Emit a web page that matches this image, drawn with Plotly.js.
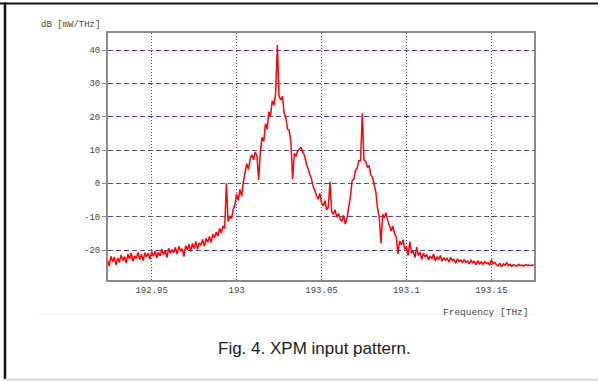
<!DOCTYPE html>
<html>
<head>
<meta charset="utf-8">
<script src="https://cdn.plot.ly/plotly-3.0.1.min.js"></script>
<style>
html,body{margin:0;padding:0;background:#fff;}
#chart{width:598px;height:381px;}
</style>
</head>
<body>
<div id="chart"></div>
<script>
// Frequency samples (THz)
var freq = [
192.924,192.925,192.926,192.927,192.928,192.929,192.930,192.931,192.932,192.933,
192.934,192.935,192.936,192.937,192.938,192.939,192.940,192.941,192.942,192.943,
192.944,192.945,192.946,192.947,192.948,192.949,192.950,192.951,192.952,192.953,
192.954,192.955,192.956,192.957,192.958,192.959,192.960,192.961,192.962,192.963,
192.964,192.965,192.966,192.967,192.968,192.969,192.970,192.971,192.972,192.973,
192.974,192.975,192.976,192.977,192.978,192.979,192.980,192.981,192.982,192.983,
192.984,192.985,192.986,192.987,192.988,192.989,192.990,192.991,192.992,192.993,
192.994,192.995,192.996,192.997,192.998,192.999,193.000,193.001,193.002,193.003,
193.004,193.005,193.006,193.007,193.008,193.009,193.010,193.011,193.012,193.013,
193.014,193.015,193.016,193.017,193.018,193.019,193.020,193.021,193.022,193.023,
193.024,193.025,193.026,193.027,193.028,193.029,193.030,193.031,193.032,193.033,
193.034,193.035,193.036,193.037,193.038,193.039,193.040,193.041,193.042,193.043,
193.044,193.045,193.046,193.047,193.048,193.049,193.050,193.051,193.052,193.053,
193.054,193.055,193.056,193.057,193.058,193.059,193.060,193.061,193.062,193.063,
193.064,193.065,193.066,193.067,193.068,193.069,193.070,193.071,193.072,193.073,
193.074,193.075,193.076,193.077,193.078,193.079,193.080,193.081,193.082,193.083,
193.084,193.085,193.086,193.087,193.088,193.089,193.090,193.091,193.092,193.093,
193.094,193.095,193.096,193.097,193.098,193.099,193.100,193.101,193.102,193.103,
193.104,193.105,193.106,193.107,193.108,193.109,193.110,193.111,193.112,193.113,
193.114,193.115,193.116,193.117,193.118,193.119,193.120,193.121,193.122,193.123,
193.124,193.125,193.126,193.127,193.128,193.129,193.130,193.131,193.132,193.133,
193.134,193.135,193.136,193.137,193.138,193.139,193.140,193.141,193.142,193.143,
193.144,193.145,193.146,193.147,193.148,193.149,193.150,193.151,193.152,193.153,
193.154,193.155,193.156,193.157,193.158,193.159,193.160,193.161,193.162,193.163,
193.164,193.165,193.166,193.167,193.168,193.169,193.170,193.171,193.172,193.173,
193.174,193.175
];

// Power spectral density (dB [mW/THz])
var power = [
-23.0,-24.8,-21.9,-23.6,-22.1,-24.5,-22.4,-23.7,-21.5,-23.1,
-22.0,-23.9,-21.2,-22.8,-20.9,-23.4,-21.8,-22.6,-20.7,-22.9,
-21.3,-23.2,-20.8,-22.1,-21.0,-22.7,-20.5,-21.9,-20.2,-22.4,
-20.6,-21.8,-19.7,-21.5,-20.1,-22.3,-19.5,-21.0,-19.9,-20.8,
-19.2,-21.2,-18.9,-20.4,-19.6,-22.0,-18.7,-19.9,-18.3,-20.5,
-18.0,-19.6,-17.4,-19.8,-17.9,-18.6,-16.8,-18.9,-16.5,-17.7,
-15.9,-17.8,-15.2,-16.4,-14.6,-15.8,-13.5,-15.0,-12.8,-13.6,
0.0,-11.5,-9.8,-10.6,-7.9,-6.5,-3.2,-5.1,-1.8,-3.9,
0.5,2.8,5.9,4.2,7.3,8.6,7.1,9.4,8.2,1.0,
9.5,13.8,12.6,17.9,16.2,21.5,20.1,24.8,23.4,27.0,
41.5,26.2,25.0,26.1,21.1,19.8,16.2,15.9,12.1,1.2,
9.0,8.1,9.7,10.2,10.8,9.3,8.4,6.0,4.7,2.9,
1.5,-0.8,-2.2,-3.5,-4.8,-3.0,-5.9,-6.8,-5.2,-8.0,
-7.1,0.5,-8.5,-9.3,-7.9,-10.2,-9.0,-10.8,-11.3,-9.6,
-12.2,-10.5,-7.2,-4.1,0.8,1.2,3.9,4.6,6.8,6.9,
21.0,7.0,6.6,4.9,5.2,2.5,1.8,-1.0,-2.6,-7.5,
-10.1,-18.0,-9.3,-10.4,-8.8,-11.2,-13.0,-14.3,-12.8,-15.1,
-16.0,-21.2,-17.3,-18.4,-16.9,-19.8,-19.0,-21.6,-17.5,-21.0,
-20.4,-22.3,-19.1,-21.7,-20.6,-22.8,-20.9,-22.1,-21.4,-23.0,
-21.8,-22.6,-21.2,-23.3,-22.0,-22.9,-21.6,-23.4,-22.3,-23.1,
-22.5,-23.6,-22.2,-23.2,-22.8,-24.0,-22.7,-23.5,-23.0,-23.9,
-22.9,-23.7,-23.3,-24.2,-23.1,-23.8,-23.4,-24.4,-23.2,-24.1,
-23.6,-24.3,-23.5,-24.0,-23.8,-24.6,-22.9,-24.2,-23.7,-24.5,
-24.8,-23.9,-25.1,-24.2,-24.6,-23.8,-24.7,-24.3,-24.9,-24.4,
-24.6,-24.9,-24.3,-24.7,-24.5,-24.8,-24.4,-24.6,-24.5,-24.7,
-24.5,-24.6
];

var xTickVals = [192.95, 193, 193.05, 193.1, 193.15];
var xTickText = ['192.95', '193', '193.05', '193.1', '193.15'];
var yTickVals = [-20, -10, 0, 10, 20, 30, 40];
var yTickText = ['-20', '-10', '0', '10', '20', '30', '40'];

var trace = {
  x: freq, y: power, type: 'scatter', mode: 'lines',
  line: {color: '#ff0000', width: 1.5},
  hoverinfo: 'skip'
};

var tickFont = {family: 'Liberation Mono, monospace', size: 9, color: '#454545'};

var layout = {
  width: 598, height: 381,
  margin: {l: 108, r: 64, t: 33, b: 101, pad: 0},
  paper_bgcolor: '#ffffff', plot_bgcolor: '#ffffff',
  showlegend: false,
  xaxis: {
    range: [192.9243, 193.1751], tickvals: xTickVals, ticktext: xTickText,
    showgrid: true, gridcolor: '#4a4a9c', gridwidth: 1, griddash: '1px,2px',
    zeroline: false, showline: true, linecolor: '#8a8a8a', linewidth: 2, mirror: true,
    ticks: '', tickfont: tickFont, fixedrange: true
  },
  yaxis: {
    range: [-29, 45.1], tickvals: yTickVals, ticktext: yTickText,
    showgrid: true, gridcolor: '#4a4a96', gridwidth: 1, griddash: '5px,3px',
    zeroline: false, showline: true, linecolor: '#8a8a8a', linewidth: 2, mirror: true,
    ticks: 'outside', ticklen: 4, tickcolor: '#8a8a8a', tickfont: tickFont, fixedrange: true
  },
  shapes: [
    {type: 'line', xref: 'paper', yref: 'paper', x0: -0.2535, x1: 1.1502, y0: 1.1194, y1: 1.1194,
     line: {color: '#111111', width: 2}},
    {type: 'line', xref: 'paper', yref: 'paper', x0: -0.2418, x1: -0.2418, y0: 1.1235, y1: -0.4008,
     line: {color: '#111111', width: 2.5}},
    {type: 'line', xref: 'paper', yref: 'paper', x0: -0.2418, x1: 1.1502, y0: -0.4028, y1: -0.4028,
     line: {color: '#d4d4d4', width: 2}},
    {type: 'line', xref: 'paper', yref: 'paper', x0: -0.164, x1: 1.0, y0: -0.139, y1: -0.139,
     line: {color: '#f2f2f2', width: 1}}
  ],
  annotations: [
    {text: 'dB [mW/THz]', xref: 'paper', yref: 'paper', x: -0.089, y: 1.032,
     xanchor: 'center', yanchor: 'middle', showarrow: false,
     font: {family: 'Liberation Mono, monospace', size: 9, color: '#454545'}},
    {text: 'Frequency [THz]', xref: 'paper', yref: 'paper', x: 0.993, y: -0.1296,
     xanchor: 'right', yanchor: 'middle', showarrow: false,
     font: {family: 'Liberation Mono, monospace', size: 9.5, color: '#454545'}},
    {text: 'Fig. 4. XPM input pattern.', xref: 'paper', yref: 'paper', x: 0.4836, y: -0.279,
     xanchor: 'center', yanchor: 'middle', showarrow: false,
     font: {family: 'Liberation Sans, Arial, sans-serif', size: 17, color: '#1a1a1a'}}
  ]
};

Plotly.newPlot('chart', [trace], layout, {displayModeBar: false});
</script>
</body>
</html>
